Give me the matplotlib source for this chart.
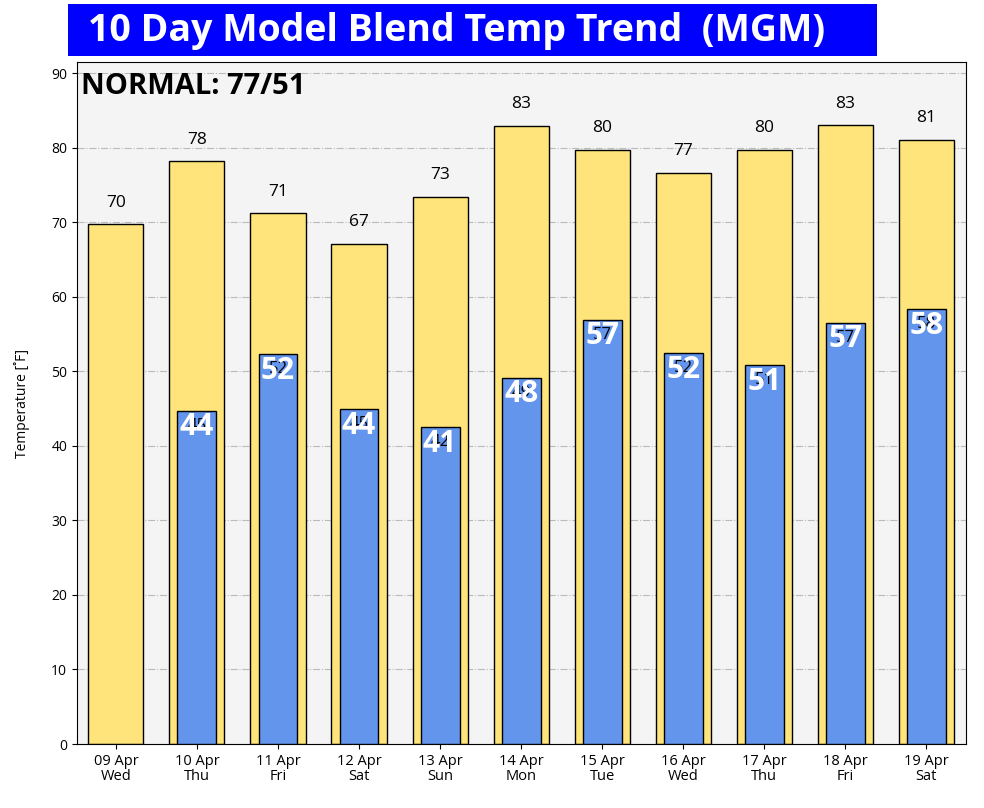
import numpy as np
import matplotlib.pyplot as plt
from matplotlib.patches import Rectangle

plt.rcParams['font.family'] = ['Open Sans', 'DejaVu Sans']

days = ['09 Apr\nWed', '10 Apr\nThu', '11 Apr\nFri', '12 Apr\nSat', '13 Apr\nSun',
        '14 Apr\nMon', '15 Apr\nTue', '16 Apr\nWed', '17 Apr\nThu', '18 Apr\nFri', '19 Apr\nSat']
highs = [69.7, 78.2, 71.2, 67.1, 73.4, 82.9, 79.7, 76.6, 79.7, 83.0, 81.1]
high_labels = ['70', '78', '71', '67', '73', '83', '80', '77', '80', '83', '81']
lows = [np.nan, 44.7, 52.3, 44.9, 42.5, 49.1, 56.9, 52.4, 50.8, 56.5, 58.3]
low_small = ['', '45', '52', '45', '42', '49', '57', '52', '51', '57', '58']
low_labels = ['', '44', '52', '44', '41', '48', '57', '52', '51', '57', '58']

x = np.arange(len(days))

fig = plt.figure(figsize=(9.84, 8.08), dpi=100)
ax = fig.add_axes([77/984, 1 - 744/808, (966-77)/984, (744-62)/808])
ax.set_facecolor('#f4f4f4')
ax.grid(axis='y', color='#bbbbbb', linestyle='-.', linewidth=0.8)
ax.set_axisbelow(True)

ax.bar(x, highs, width=0.68, color='#fee47a', edgecolor='black', linewidth=1, zorder=2)
ax.bar(x, lows, width=0.48, color='#6495ed', edgecolor='black', linewidth=1, zorder=3)

for i in x:
    ax.text(i, highs[i] + 2.9, high_labels[i], ha='center', va='center', fontsize=12.5, zorder=4)
    if low_labels[i]:
        ax.text(i, lows[i] - 2.0, low_small[i], ha='center', va='center', fontsize=12, zorder=4)
        ax.text(i, lows[i] - 2.2, low_labels[i], ha='center', va='center', fontsize=21.5,
                fontweight='bold', color='white', zorder=5)

ax.set_xlim(-0.48, 10.49)
ax.set_ylim(0, 91.5)
ax.set_yticks(np.arange(0, 91, 10))
ax.set_xticks(x)
ax.set_xticklabels(days, fontsize=10.5, linespacing=1.0)
ax.tick_params(axis='y', labelsize=10)
ax.set_ylabel('Temperature [˚F]', fontsize=10)
ax.yaxis.set_label_coords(-0.053, 0.5)

ax.text(0.004, 0.985, 'NORMAL: 77/51', transform=ax.transAxes, ha='left', va='top',
        fontsize=21, fontweight='bold')

fig.patches.append(Rectangle((68/984, 1 - 56/808), (877-68)/984, 52/808,
                             transform=fig.transFigure, facecolor='#0000ff', edgecolor='none'))
fig.text(88/984, 1 - 31/808, '10 Day Model Blend Temp Trend  (MGM)', ha='left', va='center',
         fontsize=27, fontweight='bold', color='white')

fig.savefig('out.png', dpi=100)
